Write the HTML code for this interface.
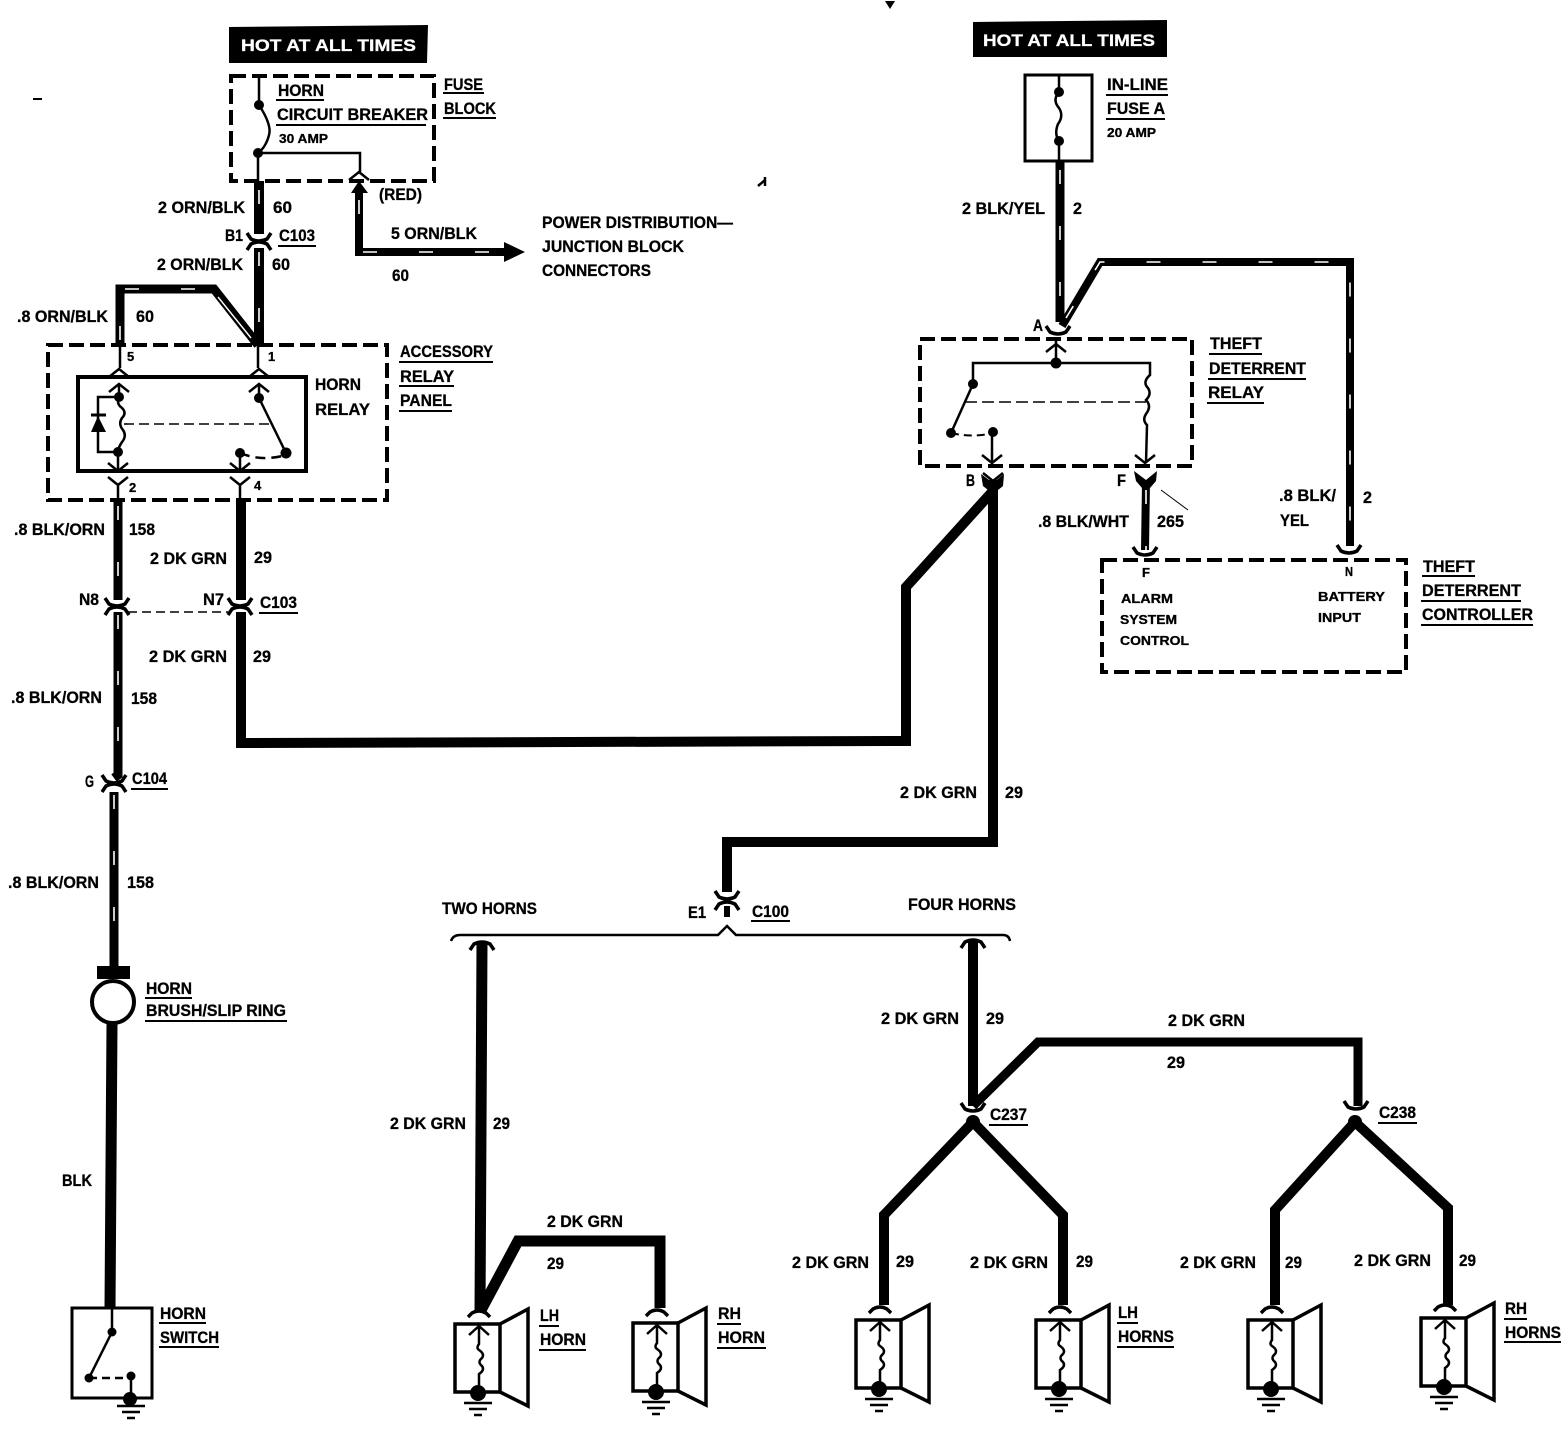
<!DOCTYPE html>
<html><head><meta charset="utf-8"><style>
html,body{margin:0;padding:0;background:#fff}
svg{display:block}
text{font-family:"Liberation Sans",sans-serif;font-weight:bold;font-size:17px;fill:#000;stroke:#000;stroke-width:.3}
.s{font-size:13px}
.w{fill:#fff;stroke:#fff}
.l{fill:none;stroke:#000;stroke-width:2.5}
.d{fill:none;stroke:#000;stroke-width:4;stroke-dasharray:15 6}
.t{fill:none;stroke:#000;stroke-linejoin:miter}
.st{fill:none;stroke:#fff;stroke-width:1.6;stroke-dasharray:14 42}
.u{stroke:#000;stroke-width:2}
</style></head><body>
<svg width="1562" height="1456" viewBox="0 0 1562 1456" xmlns="http://www.w3.org/2000/svg">
<defs>
<path id="cd" d="M-12,-5 L-8,1 Q0,5 8,1 L12,-5" fill="none" stroke="#000" stroke-width="3.5"/>
<path id="cu" d="M-12,5 L-8,-1 Q0,-5 8,-1 L12,5" fill="none" stroke="#000" stroke-width="3.5"/>
<path id="ch" d="M-10,7 L0,-1 L10,7" fill="none" stroke="#000" stroke-width="2.5"/>
<path id="cv" d="M-10,-7 L0,1 L10,-7" fill="none" stroke="#000" stroke-width="2.5"/>
<g id="gnd" stroke="#000" stroke-width="2.5"><path d="M-14,0H14M-9,6H9M-4,12H4"/></g>
<g id="horn">
<path d="M-11,-5 L-7,-9 Q0,-13 7,-9 L11,-5" fill="none" stroke="#000" stroke-width="3.5"/>
<rect x="-24" y="2" width="45" height="68" fill="none" stroke="#000" stroke-width="3.5"/>
<path d="M21,2 L49,-13 V84 L21,70" fill="none" stroke="#000" stroke-width="3.5"/>
<path d="M-10,13 L0,4 L10,13 M0,4 V22 Q-3,26 0,28 Q6,32 3,36 Q-2,40 3,44 Q6,48 0,52 V66" fill="none" stroke="#000" stroke-width="2.5"/>
<circle cx="-1" cy="71" r="8"/>
<use href="#gnd" x="-1" y="81"/>
</g>
</defs>
<rect width="1562" height="1456" fill="#fff"/>

<!-- HOT boxes -->
<path d="M229,27 L428,25 L427,63 L229,63Z"/>
<text class="w" x="241" y="51" textLength="175" lengthAdjust="spacingAndGlyphs">HOT AT ALL TIMES</text>
<path d="M973,22 L1167,20 L1167,57 L973,57Z"/>
<text class="w" x="983" y="46" textLength="172" lengthAdjust="spacingAndGlyphs">HOT AT ALL TIMES</text>

<!-- Fuse block -->
<rect class="d" x="231" y="76" width="203" height="105"/>
<path class="l" d="M259,76V105 Q272,125 269,135 Q266,147 258,153 V181 M258,153H360V172"/>
<circle cx="259" cy="105" r="5"/><circle cx="258" cy="153" r="5"/>
<use href="#ch" x="359" y="173"/>

<!-- Upper left wires -->
<path class="t" stroke-width="10" d="M259,181V234M259,248V345"/>
<path class="st" d="M259,190V234M259,252V340"/>
<use href="#cd" x="259" y="238"/><use href="#cu" x="259" y="245"/>
<path class="t" stroke-width="9" d="M120,345V289H214L258,345"/>
<path class="st" d="M120,340V289H214"/>
<path fill="none" stroke="#fff" stroke-width="1.4" d="M218,297L251,338"/>
<path class="t" stroke-width="8" d="M359,192V252H505"/>
<path class="st" d="M359,200V252H505"/>
<path d="M351,193L359,181L368,193Z"/>
<path d="M504,242L525,252L504,262Z"/>

<!-- Accessory relay panel -->
<rect class="d" x="48" y="345" width="339" height="155"/>
<rect x="78" y="377" width="228" height="94" fill="none" stroke="#000" stroke-width="4"/>
<path class="l" d="M120,345V368M258,345V368"/>
<use href="#ch" x="119" y="370"/><use href="#ch" x="259" y="370"/>
<use href="#ch" x="119" y="385"/><use href="#ch" x="259" y="385"/>
<path class="l" d="M119,385V397 M118,452V470"/>
<circle cx="119" cy="397" r="5"/><circle cx="118" cy="452" r="5"/>
<path class="l" d="M119,397 Q116,404 122,408 Q127,413 122,418 Q118,424 123,430 Q127,436 122,442 Q118,448 118,452"/>
<path class="l" d="M118,397H98V452H118"/>
<path d="M91,432H106L98,416Z"/><path d="M91,415H106" stroke="#000" stroke-width="3"/>
<path fill="none" stroke="#000" stroke-width="1.6" stroke-dasharray="10 5" d="M124,424H272"/>
<path class="l" stroke-width="3" d="M259,385V398L286,453"/>
<circle cx="259" cy="398" r="5"/><circle cx="286" cy="453" r="5.5"/>
<circle cx="240" cy="453" r="5"/>
<path fill="none" stroke="#000" stroke-width="2.5" stroke-dasharray="10 6" d="M240,453Q262,462 286,455"/>
<path class="l" d="M240,453V470"/>
<use href="#cv" x="118" y="470"/><use href="#cv" x="240" y="470"/>
<use href="#cv" x="118" y="484"/><use href="#cv" x="240" y="484"/>
<path class="l" d="M118,484V500M240,484V500"/>

<!-- Lower left wires -->
<path class="t" stroke-width="9" d="M118,500V600M118,612V775L114,778M114,792V966"/>
<path class="st" d="M118,506V600M118,615V775M114,795V960"/>
<use href="#cd" x="117" y="603"/><use href="#cu" x="117" y="610"/>
<use href="#cd" x="114" y="780"/><use href="#cu" x="114" y="787"/>
<use href="#cd" x="240" y="603"/><use href="#cu" x="240" y="610"/>
<path fill="none" stroke="#000" stroke-width="1.6" stroke-dasharray="9 5" d="M128,612H228"/>
<path class="t" stroke-width="10" d="M241,500V600"/>
<path class="t" stroke-width="10" d="M241,612V743L906,741V587L992,492"/>
<path class="t" stroke-width="10" d="M993,480V842H727V892"/>
<use href="#cv" x="993" y="480"/>
<path d="M981,474L993,483L1004,474L1003,486L993,494L983,486Z"/>
<use href="#cd" x="727" y="896"/><use href="#cu" x="727" y="905"/>
<path class="t" stroke-width="6" d="M727,906V917"/>

<!-- Horn brush -->
<path d="M97,966H130V979H97Z"/>
<circle cx="113" cy="1002" r="21" fill="#fff" stroke="#000" stroke-width="4"/>
<path class="t" stroke-width="11" d="M112,1024L110,1308"/>

<!-- Horn switch -->
<rect x="72" y="1308" width="80" height="90" fill="none" stroke="#000" stroke-width="3"/>
<path class="l" d="M112,1308V1332L89,1378"/>
<circle cx="112" cy="1332" r="4.5"/><circle cx="89" cy="1378" r="4.5"/><circle cx="131" cy="1376" r="4.5"/>
<path fill="none" stroke="#000" stroke-width="2.5" stroke-dasharray="8 5" d="M89,1378H131"/>
<path class="l" d="M131,1376V1398"/>
<circle cx="130" cy="1399" r="7"/>
<use href="#gnd" x="131" y="1406"/>

<!-- Bracket -->
<path class="l" fill="none" d="M451,941 Q453,935 460,935 H718 L727,926 L736,935 H1003 Q1009,935 1010,941"/>
<use href="#cu" x="482" y="945"/><use href="#cu" x="973" y="943"/>
<path class="t" stroke-width="11" d="M482,943L480,1312"/>
<path class="t" stroke-width="11" d="M480,1312L518,1241H660V1308"/>
<path class="t" stroke-width="10" d="M973,941V1106"/>
<path class="t" stroke-width="9" d="M973,1106L1038,1042H1358V1106"/>
<use href="#cd" x="973" y="1108"/><use href="#cd" x="1356" y="1106"/>
<circle cx="973" cy="1122" r="7"/><circle cx="1355" cy="1122" r="7"/>
<path class="t" stroke-width="10" d="M973,1122L884,1215V1305M973,1122L1063,1215V1305"/>
<path class="t" stroke-width="10" d="M1355,1122L1275,1210V1305M1355,1122L1448,1208V1305"/>
<use href="#horn" x="479" y="1322"/>
<use href="#horn" x="657" y="1321"/>
<use href="#horn" x="880" y="1318"/>
<use href="#horn" x="1060" y="1318"/>
<use href="#horn" x="1272" y="1318"/>
<use href="#horn" x="1445" y="1316"/>

<!-- In-line fuse -->
<rect x="1025" y="75" width="67" height="86" fill="none" stroke="#000" stroke-width="3"/>
<path class="l" d="M1059,75V92 Q1052,100 1059,108 Q1064,116 1058,124 Q1054,134 1059,141V161"/>
<circle cx="1059" cy="92" r="5"/><circle cx="1059" cy="141" r="5"/>
<path class="t" stroke-width="9" d="M1060,161V322"/>
<path class="st" d="M1060,170V322"/>
<path class="t" stroke-width="8" d="M1062,326L1100,262H1350V546"/>
<path class="st" d="M1066,318L1100,262H1350V546"/>
<use href="#cd" x="1058" y="331"/>

<!-- Theft deterrent relay -->
<rect class="d" x="920" y="339" width="272" height="127"/>
<use href="#ch" x="1056" y="345"/>
<path class="l" d="M1056,339V362M973,384V363H1150V375 Q1142,382 1148,388 Q1152,394 1146,400 Q1152,406 1146,414 Q1142,420 1147,425L1146,463"/>
<circle cx="1056" cy="363" r="5.5"/><circle cx="973" cy="384" r="5"/>
<path class="l" stroke-width="3" d="M973,384L951,433"/>
<circle cx="951" cy="433" r="5"/><circle cx="993" cy="432" r="5"/>
<path fill="none" stroke="#000" stroke-width="2" stroke-dasharray="8 5" d="M951,433Q972,438 993,433"/>
<path class="l" d="M992,433V462"/>
<path fill="none" stroke="#000" stroke-width="1.6" stroke-dasharray="12 5" d="M965,402H1146"/>
<use href="#cv" x="992" y="462"/><use href="#cv" x="1145" y="462"/>
<path d="M1134,471L1146,480L1157,471L1156,481L1150,488H1142L1136,481Z"/>
<path class="t" stroke-width="8" d="M1146,482L1145,550"/>
<path class="st" d="M1146,490V550"/>
<use href="#cd" x="1145" y="552"/><use href="#cd" x="1349" y="550"/>
<path fill="none" stroke="#000" stroke-width="1" d="M1161,490L1188,510"/>

<!-- Controller -->
<rect class="d" x="1102" y="560" width="304" height="112"/>

<!-- specks -->
<path d="M885,1H895L890,9Z"/><path d="M33,98H42V100H33Z"/>
<path class="l" stroke-width="1.5" d="M758,186L765,180M765,177V186"/>

<!-- Labels -->
<g>
<text x="278" y="96" textLength="46" lengthAdjust="spacingAndGlyphs">HORN</text>
<text x="277" y="120" textLength="151" lengthAdjust="spacingAndGlyphs">CIRCUIT BREAKER</text>
<text class="s" x="279" y="143" textLength="49" lengthAdjust="spacingAndGlyphs">30 AMP</text>
<text x="444" y="90" textLength="39" lengthAdjust="spacingAndGlyphs">FUSE</text>
<text x="444" y="114" textLength="52" lengthAdjust="spacingAndGlyphs">BLOCK</text>
<text x="158" y="213" textLength="87" lengthAdjust="spacingAndGlyphs">2 ORN/BLK</text>
<text x="273" y="213" textLength="19" lengthAdjust="spacingAndGlyphs">60</text>
<text x="225" y="241" textLength="18" lengthAdjust="spacingAndGlyphs">B1</text>
<text x="279" y="241" textLength="36" lengthAdjust="spacingAndGlyphs">C103</text>
<text x="157" y="270" textLength="86" lengthAdjust="spacingAndGlyphs">2 ORN/BLK</text>
<text x="272" y="270" textLength="18" lengthAdjust="spacingAndGlyphs">60</text>
<text x="17" y="322" textLength="91" lengthAdjust="spacingAndGlyphs">.8 ORN/BLK</text>
<text x="136" y="322" textLength="18" lengthAdjust="spacingAndGlyphs">60</text>
<text x="379" y="200" textLength="43" lengthAdjust="spacingAndGlyphs">(RED)</text>
<text x="391" y="239" textLength="86" lengthAdjust="spacingAndGlyphs">5 ORN/BLK</text>
<text x="392" y="281" textLength="17" lengthAdjust="spacingAndGlyphs">60</text>
<text x="542" y="228" textLength="191" lengthAdjust="spacingAndGlyphs">POWER DISTRIBUTION—</text>
<text x="542" y="252" textLength="142" lengthAdjust="spacingAndGlyphs">JUNCTION BLOCK</text>
<text x="542" y="276" textLength="109" lengthAdjust="spacingAndGlyphs">CONNECTORS</text>
<text class="s" x="127" y="361">5</text><text class="s" x="268" y="361">1</text>
<text class="s" x="129" y="492">2</text><text class="s" x="254" y="490">4</text>
<text x="315" y="390" textLength="46" lengthAdjust="spacingAndGlyphs">HORN</text>
<text x="315" y="415" textLength="55" lengthAdjust="spacingAndGlyphs">RELAY</text>
<text x="400" y="357" textLength="93" lengthAdjust="spacingAndGlyphs">ACCESSORY</text>
<text x="400" y="382" textLength="54" lengthAdjust="spacingAndGlyphs">RELAY</text>
<text x="400" y="406" textLength="52" lengthAdjust="spacingAndGlyphs">PANEL</text>
<text x="14" y="535" textLength="91" lengthAdjust="spacingAndGlyphs">.8 BLK/ORN</text>
<text x="129" y="535" textLength="26" lengthAdjust="spacingAndGlyphs">158</text>
<text x="150" y="564" textLength="77" lengthAdjust="spacingAndGlyphs">2 DK GRN</text>
<text x="254" y="563" textLength="18" lengthAdjust="spacingAndGlyphs">29</text>
<text x="79" y="605" textLength="20" lengthAdjust="spacingAndGlyphs">N8</text>
<text x="203" y="605" textLength="21" lengthAdjust="spacingAndGlyphs">N7</text>
<text x="260" y="608" textLength="37" lengthAdjust="spacingAndGlyphs">C103</text>
<text x="149" y="662" textLength="78" lengthAdjust="spacingAndGlyphs">2 DK GRN</text>
<text x="253" y="662" textLength="18" lengthAdjust="spacingAndGlyphs">29</text>
<text x="11" y="703" textLength="91" lengthAdjust="spacingAndGlyphs">.8 BLK/ORN</text>
<text x="131" y="704" textLength="26" lengthAdjust="spacingAndGlyphs">158</text>
<text x="85" y="787" textLength="9" lengthAdjust="spacingAndGlyphs">G</text>
<text x="132" y="784" textLength="35" lengthAdjust="spacingAndGlyphs">C104</text>
<text x="8" y="888" textLength="91" lengthAdjust="spacingAndGlyphs">.8 BLK/ORN</text>
<text x="127" y="888" textLength="27" lengthAdjust="spacingAndGlyphs">158</text>
<text x="146" y="994" textLength="46" lengthAdjust="spacingAndGlyphs">HORN</text>
<text x="146" y="1016" textLength="140" lengthAdjust="spacingAndGlyphs">BRUSH/SLIP RING</text>
<text x="62" y="1186" textLength="30" lengthAdjust="spacingAndGlyphs">BLK</text>
<text x="160" y="1319" textLength="46" lengthAdjust="spacingAndGlyphs">HORN</text>
<text x="160" y="1343" textLength="59" lengthAdjust="spacingAndGlyphs">SWITCH</text>
<text x="442" y="914" textLength="95" lengthAdjust="spacingAndGlyphs">TWO HORNS</text>
<text x="688" y="918" textLength="18" lengthAdjust="spacingAndGlyphs">E1</text>
<text x="752" y="917" textLength="37" lengthAdjust="spacingAndGlyphs">C100</text>
<text x="908" y="910" textLength="108" lengthAdjust="spacingAndGlyphs">FOUR HORNS</text>
<text x="390" y="1129" textLength="76" lengthAdjust="spacingAndGlyphs">2 DK GRN</text>
<text x="493" y="1129" textLength="17" lengthAdjust="spacingAndGlyphs">29</text>
<text x="547" y="1227" textLength="76" lengthAdjust="spacingAndGlyphs">2 DK GRN</text>
<text x="547" y="1269" textLength="17" lengthAdjust="spacingAndGlyphs">29</text>
<text x="540" y="1321" textLength="19" lengthAdjust="spacingAndGlyphs">LH</text>
<text x="540" y="1345" textLength="46" lengthAdjust="spacingAndGlyphs">HORN</text>
<text x="718" y="1319" textLength="23" lengthAdjust="spacingAndGlyphs">RH</text>
<text x="718" y="1343" textLength="47" lengthAdjust="spacingAndGlyphs">HORN</text>
<text x="881" y="1024" textLength="78" lengthAdjust="spacingAndGlyphs">2 DK GRN</text>
<text x="986" y="1024" textLength="18" lengthAdjust="spacingAndGlyphs">29</text>
<text x="1168" y="1026" textLength="77" lengthAdjust="spacingAndGlyphs">2 DK GRN</text>
<text x="1167" y="1068" textLength="18" lengthAdjust="spacingAndGlyphs">29</text>
<text x="990" y="1120" textLength="37" lengthAdjust="spacingAndGlyphs">C237</text>
<text x="1379" y="1118" textLength="37" lengthAdjust="spacingAndGlyphs">C238</text>
<text x="792" y="1268" textLength="77" lengthAdjust="spacingAndGlyphs">2 DK GRN</text>
<text x="896" y="1267" textLength="18" lengthAdjust="spacingAndGlyphs">29</text>
<text x="970" y="1268" textLength="78" lengthAdjust="spacingAndGlyphs">2 DK GRN</text>
<text x="1076" y="1267" textLength="17" lengthAdjust="spacingAndGlyphs">29</text>
<text x="1180" y="1268" textLength="76" lengthAdjust="spacingAndGlyphs">2 DK GRN</text>
<text x="1285" y="1268" textLength="17" lengthAdjust="spacingAndGlyphs">29</text>
<text x="1354" y="1266" textLength="77" lengthAdjust="spacingAndGlyphs">2 DK GRN</text>
<text x="1459" y="1266" textLength="17" lengthAdjust="spacingAndGlyphs">29</text>
<text x="1118" y="1318" textLength="20" lengthAdjust="spacingAndGlyphs">LH</text>
<text x="1118" y="1342" textLength="56" lengthAdjust="spacingAndGlyphs">HORNS</text>
<text x="1505" y="1314" textLength="22" lengthAdjust="spacingAndGlyphs">RH</text>
<text x="1505" y="1338" textLength="56" lengthAdjust="spacingAndGlyphs">HORNS</text>
<text x="900" y="798" textLength="77" lengthAdjust="spacingAndGlyphs">2 DK GRN</text>
<text x="1005" y="798" textLength="18" lengthAdjust="spacingAndGlyphs">29</text>
<text x="1107" y="90" textLength="61" lengthAdjust="spacingAndGlyphs">IN-LINE</text>
<text x="1107" y="114" textLength="58" lengthAdjust="spacingAndGlyphs">FUSE A</text>
<text class="s" x="1107" y="137" textLength="49" lengthAdjust="spacingAndGlyphs">20 AMP</text>
<text x="962" y="214" textLength="83" lengthAdjust="spacingAndGlyphs">2 BLK/YEL</text>
<text x="1073" y="214" textLength="9" lengthAdjust="spacingAndGlyphs">2</text>
<text x="1033" y="331" textLength="10" lengthAdjust="spacingAndGlyphs">A</text>
<text x="1210" y="349" textLength="52" lengthAdjust="spacingAndGlyphs">THEFT</text>
<text x="1209" y="374" textLength="97" lengthAdjust="spacingAndGlyphs">DETERRENT</text>
<text x="1208" y="398" textLength="56" lengthAdjust="spacingAndGlyphs">RELAY</text>
<text x="966" y="486" textLength="9" lengthAdjust="spacingAndGlyphs">B</text>
<text x="1117" y="486" textLength="9" lengthAdjust="spacingAndGlyphs">F</text>
<text x="1038" y="527" textLength="91" lengthAdjust="spacingAndGlyphs">.8 BLK/WHT</text>
<text x="1157" y="527" textLength="27" lengthAdjust="spacingAndGlyphs">265</text>
<text x="1279" y="501" textLength="57" lengthAdjust="spacingAndGlyphs">.8 BLK/</text>
<text x="1280" y="526" textLength="29" lengthAdjust="spacingAndGlyphs">YEL</text>
<text x="1363" y="503" textLength="9" lengthAdjust="spacingAndGlyphs">2</text>
<text class="s" x="1142" y="577" textLength="8" lengthAdjust="spacingAndGlyphs">F</text>
<text class="s" x="1345" y="576" textLength="8" lengthAdjust="spacingAndGlyphs">N</text>
<text class="s" x="1121" y="603" textLength="52" lengthAdjust="spacingAndGlyphs">ALARM</text>
<text class="s" x="1120" y="624" textLength="57" lengthAdjust="spacingAndGlyphs">SYSTEM</text>
<text class="s" x="1120" y="645" textLength="69" lengthAdjust="spacingAndGlyphs">CONTROL</text>
<text class="s" x="1318" y="601" textLength="67" lengthAdjust="spacingAndGlyphs">BATTERY</text>
<text class="s" x="1318" y="622" textLength="43" lengthAdjust="spacingAndGlyphs">INPUT</text>
<text x="1423" y="572" textLength="52" lengthAdjust="spacingAndGlyphs">THEFT</text>
<text x="1422" y="596" textLength="99" lengthAdjust="spacingAndGlyphs">DETERRENT</text>
<text x="1422" y="620" textLength="111" lengthAdjust="spacingAndGlyphs">CONTROLLER</text>
</g>

<!-- Underlines -->
<path class="u" d="M276,100H324M276,125H426M443,93H484M443,118H496M278,246H316M399,362H493M399,386H454M399,411H452M259,613H298M131,789H168M145,998H192M145,1021H287M159,1323H206M159,1347H219M751,921H790M539,1326H559M539,1350H586M717,1324H741M717,1348H766M989,1125H1028M1378,1123H1417M1117,1347H1174M1117,1323H1138M1504,1319H1527M1504,1342H1561M1106,95H1168M1106,119H1165M1209,354H1262M1208,379H1306M1207,403H1264M1422,576H1475M1421,601H1521M1421,625H1533"/>
</svg>
</body></html>
